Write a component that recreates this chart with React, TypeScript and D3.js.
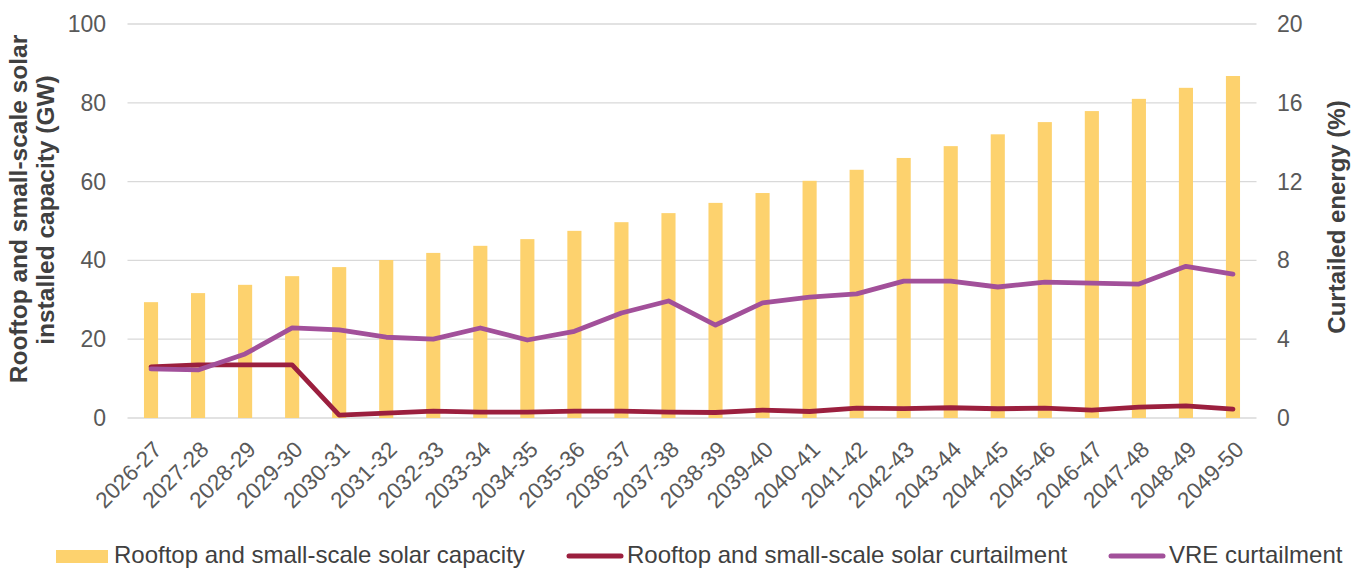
import React from "react";
import * as d3 from "d3";

const categories = ["2026-27","2027-28","2028-29","2029-30","2030-31","2031-32","2032-33","2033-34","2034-35","2035-36","2036-37","2037-38","2038-39","2039-40","2040-41","2041-42","2042-43","2043-44","2044-45","2045-46","2046-47","2047-48","2048-49","2049-50"];
const capacity = [29.4,31.7,33.8,36,38.3,40.1,41.9,43.7,45.4,47.5,49.7,52,54.6,57.1,60.2,63,66,69,72,75.1,77.9,81,83.8,86.8];
const rooftopCurtail = [2.6,2.7,2.7,2.7,0.15,0.25,0.35,0.3,0.3,0.35,0.35,0.3,0.28,0.4,0.33,0.5,0.48,0.52,0.47,0.5,0.4,0.55,0.62,0.45];
const vreCurtail = [2.49,2.44,3.25,4.57,4.47,4.1,4.0,4.57,3.96,4.4,5.33,5.94,4.72,5.84,6.14,6.3,6.95,6.95,6.65,6.9,6.85,6.8,7.7,7.3];
const leftTicks = [0,20,40,60,80,100];
const rightTicks = [0,4,8,12,16,20];

export default function App() {
  const W = 1362, H = 569;
  const x0 = 127.5, x1 = 1256.5;
  const yTop = 24, yBot = 418;
  const x = d3.scaleBand<string>().domain(categories).range([x0, x1]).paddingInner(0.7).paddingOuter(0.35);
  const yL = d3.scaleLinear().domain([0, 100]).range([yBot, yTop]);
  const yR = d3.scaleLinear().domain([0, 20]).range([yBot, yTop]);
  const cx = (c: string) => (x(c) as number) + x.bandwidth() / 2;
  const line = d3.line<number>().x((_, i) => cx(categories[i])).y((d) => yR(d));
  const font = "Liberation Sans, Arial, sans-serif";
  return (
    <svg width={W} height={H} style={{ position: "absolute", left: 0, top: 0, background: "#fff" }} fontFamily={font}>
      {leftTicks.map((t) => (
        <line key={t} x1={x0} x2={x1} y1={yL(t)} y2={yL(t)} stroke="#d9d9d9" strokeWidth={1.3} />
      ))}
      {leftTicks.map((t) => (
        <text key={"l" + t} x={106} y={yL(t)} dy="0.35em" textAnchor="end" fontSize={23} fill="#595959">{t}</text>
      ))}
      {rightTicks.map((t) => (
        <text key={"r" + t} x={1277} y={yR(t)} dy="0.35em" textAnchor="start" fontSize={23} fill="#595959">{t}</text>
      ))}
      {categories.map((c, i) => (
        <rect key={c} x={x(c)} y={yL(capacity[i])} width={x.bandwidth()} height={yBot - yL(capacity[i])} fill="#FDD26E" />
      ))}
      <path d={line(rooftopCurtail) || ""} fill="none" stroke="#9B1F3E" strokeWidth={4.8} strokeLinejoin="round" strokeLinecap="round" />
      <path d={line(vreCurtail) || ""} fill="none" stroke="#A2509A" strokeWidth={4.8} strokeLinejoin="round" strokeLinecap="round" />
      {categories.map((c) => (
        <text key={"x" + c} transform={`translate(${cx(c) + 12},${451}) rotate(-45)`} textAnchor="end" fontSize={22.5} fill="#595959">{c}</text>
      ))}
      <text transform={`translate(27,${209}) rotate(-90)`} textAnchor="middle" fontSize={24.5} fontWeight="bold" fill="#404040">Rooftop and small-scale solar</text>
      <text transform={`translate(54,${210}) rotate(-90)`} textAnchor="middle" fontSize={24.5} fontWeight="bold" fill="#404040">installed capacity (GW)</text>
      <text transform={`translate(1345,${217}) rotate(-90)`} textAnchor="middle" fontSize={24} fontWeight="bold" fill="#404040">Curtailed energy (%)</text>
      <g fontSize={24} fill="#404040">
        <rect x={56} y={550} width={52} height={13} fill="#FDD26E" />
        <text x={114} y={563}>Rooftop and small-scale solar capacity</text>
        <line x1={569} x2={621} y1={556} y2={556} stroke="#9B1F3E" strokeWidth={5} strokeLinecap="round" />
        <text x={627} y={563}>Rooftop and small-scale solar curtailment</text>
        <line x1={1111} x2={1163} y1={556} y2={556} stroke="#A2509A" strokeWidth={5} strokeLinecap="round" />
        <text x={1169} y={563}>VRE curtailment</text>
      </g>
    </svg>
  );
}
